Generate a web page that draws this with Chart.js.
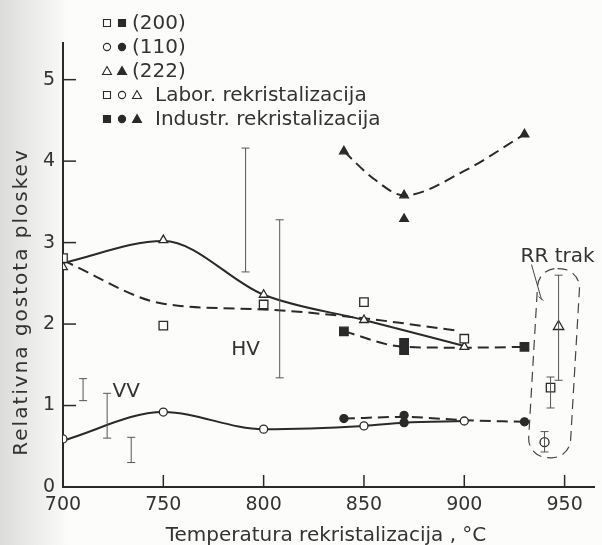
<!DOCTYPE html>
<html>
<head>
<meta charset="utf-8">
<script src="https://cdn.jsdelivr.net/npm/chart.js@4/dist/chart.umd.min.js"></script>
<style>
html,body{margin:0;padding:0;background:#fcfcfa;}
#wrap{width:602px;height:545px;}
</style>
</head>
<body>
<div id="wrap"><canvas id="c" width="602" height="545"></canvas></div>
<script>
// ---- data ----
const xTicks = [700, 750, 800, 850, 900, 950];
const yTicks = [0, 1, 2, 3, 4, 5];

// laboratory recrystallisation (open markers)
const labX   = [700, 750, 800, 850, 900];
const lab200 = [2.81, 1.98, 2.24, 2.27, 1.82];
const lab110 = [0.59, 0.92, 0.71, 0.75, 0.81];
const lab222 = [2.70, 3.03, 2.36, 2.05, 1.72];

// industrial recrystallisation (filled markers)
const ind200X = [840, 870, 870, 930];
const ind200  = [1.91, 1.68, 1.77, 1.72];
const ind110X = [840, 870, 870, 930];
const ind110  = [0.84, 0.88, 0.79, 0.80];
const ind222X = [840, 870, 870, 930];
const ind222  = [4.12, 3.58, 3.29, 4.33];

// RR strip (open markers)
const rr222X = [947], rr222 = [1.97];
const rr200X = [943], rr200 = [1.22];
const rr110X = [940], rr110 = [0.55];

// trend curves
const curveLab222X = [700, 750, 800, 850, 900];
const curveLab222  = [2.75, 3.02, 2.36, 2.05, 1.73];
const curveLab200X = [700, 750, 800, 850, 896];
const curveLab200  = [2.78, 2.25, 2.18, 2.07, 1.92];
const curveLab110X = [700, 750, 800, 850, 870, 900];
const curveLab110  = [0.57, 0.92, 0.71, 0.75, 0.79, 0.81];
const curveInd200X = [840, 870, 900, 930];
const curveInd200  = [1.91, 1.72, 1.71, 1.72];
const curveInd222X = [840, 855, 870, 900, 930];
const curveInd222  = [4.12, 3.78, 3.58, 3.88, 4.33];
const curveInd110X = [840, 870, 900, 930];
const curveInd110  = [0.84, 0.86, 0.82, 0.80];

// scatter ranges (error bars)
const errX  = [791, 808, 710, 722, 734, 947, 943, 940];
const errLo = [2.64, 1.34, 1.06, 0.60, 0.30, 1.31, 0.97, 0.43];
const errHi = [4.16, 3.28, 1.33, 1.15, 0.61, 2.60, 1.35, 0.68];

// ---- helpers ----
const INK = '#2a2a2a';
const FONT = '"DejaVu Sans", sans-serif';
const pts = (xs, ys) => xs.map((x, i) => ({x: x, y: ys[i]}));

function curve(xs, ys, dashed) {
  return {
    type: 'line', data: pts(xs, ys), borderColor: INK, borderWidth: 2,
    borderDash: dashed ? [11, 6] : [], pointRadius: 0, showLine: true,
    cubicInterpolationMode: 'monotone', fill: false, order: 2
  };
}
function marks(xs, ys, style, filled, r) {
  return {
    type: 'scatter', data: pts(xs, ys), pointStyle: style, pointRadius: r,
    pointBackgroundColor: filled ? INK : '#ffffff', pointBorderColor: INK,
    pointBorderWidth: 1.3, showLine: false, order: 1
  };
}

const overlay = {
  id: 'overlay',
  beforeDraw(chart) {
    const ctx = chart.ctx;
    ctx.save();
    const g = ctx.createLinearGradient(0, 0, 70, 0);
    g.addColorStop(0, '#dcdcda');
    g.addColorStop(1, '#fcfcfa');
    ctx.fillStyle = g;
    ctx.fillRect(0, 0, chart.width, chart.height);
    ctx.restore();
  },
  afterDatasetsDraw(chart) {
    const ctx = chart.ctx, xs = chart.scales.x, ys = chart.scales.y;
    const ca = chart.chartArea;
    ctx.save();
    // inward tick marks
    ctx.strokeStyle = INK; ctx.lineWidth = 1.5;
    xTicks.forEach(v => {
      if (v === xTicks[0]) return;
      const px = xs.getPixelForValue(v);
      ctx.beginPath(); ctx.moveTo(px, ca.bottom); ctx.lineTo(px, ca.bottom - 12); ctx.stroke();
    });
    yTicks.forEach(v => {
      if (v === 0) return;
      const py = ys.getPixelForValue(v);
      ctx.beginPath(); ctx.moveTo(ca.left, py); ctx.lineTo(ca.left + 13, py); ctx.stroke();
    });
    // error bars
    ctx.strokeStyle = '#555'; ctx.lineWidth = 1;
    errX.forEach((x, i) => {
      const px = xs.getPixelForValue(x);
      const p1 = ys.getPixelForValue(errLo[i]), p2 = ys.getPixelForValue(errHi[i]);
      ctx.beginPath();
      ctx.moveTo(px, p1); ctx.lineTo(px, p2);
      ctx.moveTo(px - 4, p1); ctx.lineTo(px + 4, p1);
      ctx.moveTo(px - 4, p2); ctx.lineTo(px + 4, p2);
      ctx.stroke();
    });
    // RR strip outline (dashed capsule)
    const tx = xs.getPixelForValue(947.5), ty = ys.getPixelForValue(2.68);
    const bx = xs.getPixelForValue(942), by = ys.getPixelForValue(0.36);
    const len = Math.hypot(bx - tx, by - ty);
    const ang = Math.atan2(bx - tx, by - ty);
    ctx.save();
    ctx.translate(tx, ty); ctx.rotate(-ang);
    ctx.strokeStyle = '#444'; ctx.lineWidth = 1.2; ctx.setLineDash([10, 6]);
    ctx.beginPath(); ctx.roundRect(-21, 0, 42, len, 19); ctx.stroke();
    ctx.restore();
    // leader line from label
    ctx.strokeStyle = '#444'; ctx.lineWidth = 1;
    const lx1 = xs.getPixelForValue(933.5), ly1 = ys.getPixelForValue(2.73);
    const lx2 = xs.getPixelForValue(938.5), ly2 = ys.getPixelForValue(2.3);
    ctx.beginPath(); ctx.moveTo(lx1, ly1); ctx.lineTo(lx2, ly2);
    ctx.moveTo(lx2 - 3, ly2 - 3); ctx.lineTo(lx2 + 2, ly2 + 1); ctx.stroke();

    // annotation texts
    ctx.fillStyle = '#333'; ctx.textAlign = 'center'; ctx.textBaseline = 'middle';
    ctx.font = '20px ' + FONT;
    ctx.fillText('HV', xs.getPixelForValue(791), ys.getPixelForValue(1.68));
    ctx.fillText('VV', xs.getPixelForValue(731.5), ys.getPixelForValue(1.17));
    ctx.fillText('RR trak', xs.getPixelForValue(946.5), ys.getPixelForValue(2.83));

    // axis titles
    ctx.font = '20px ' + FONT;
    ctx.fillText('Temperatura rekristalizacija , °C', 326, 536);
    ctx.save();
    ctx.translate(22, 302); ctx.rotate(-Math.PI / 2);
    ctx.letterSpacing = '2px';
    ctx.fillText('Relativna gostota ploskev', 0, 0);
    ctx.restore();

    // legend
    const drawMark = (style, filled, x, y) => {
      ctx.fillStyle = filled ? INK : '#ffffff';
      ctx.strokeStyle = INK; ctx.lineWidth = 1.1;
      ctx.beginPath();
      if (style === 'rect') ctx.rect(x - 3.5, y - 3.5, 7, 7);
      else if (style === 'circle') ctx.arc(x, y, 3.6, 0, Math.PI * 2);
      else { ctx.moveTo(x, y - 4.5); ctx.lineTo(x + 4.5, y + 3.5); ctx.lineTo(x - 4.5, y + 3.5); ctx.closePath(); }
      ctx.fill(); ctx.stroke();
    };
    const rows = [
      {y: 23, m: [['rect', 0], ['rect', 1]], t: '(200)', tx: 132},
      {y: 47, m: [['circle', 0], ['circle', 1]], t: '(110)', tx: 132},
      {y: 71, m: [['tri', 0], ['tri', 1]], t: '(222)', tx: 132},
      {y: 95, m: [['rect', 0], ['circle', 0], ['tri', 0]], t: 'Labor. rekristalizacija', tx: 155},
      {y: 119, m: [['rect', 1], ['circle', 1], ['tri', 1]], t: 'Industr. rekristalizacija', tx: 155}
    ];
    rows.forEach(r => {
      r.m.forEach((m, i) => drawMark(m[0], m[1], 107 + i * 15, r.y));
      ctx.fillStyle = '#333'; ctx.textAlign = 'left'; ctx.textBaseline = 'middle';
      ctx.font = '20px ' + FONT;
      ctx.fillText(r.t, r.tx, r.y + 1);
    });
    ctx.restore();
  }
};

new Chart(document.getElementById('c'), {
  type: 'scatter',
  data: {
    datasets: [
      curve(curveLab222X, curveLab222, false),
      curve(curveLab200X, curveLab200, true),
      curve(curveLab110X, curveLab110, false),
      curve(curveInd200X, curveInd200, true),
      curve(curveInd222X, curveInd222, true),
      curve(curveInd110X, curveInd110, true),
      marks(labX, lab200, 'rect', false, 6),
      marks(labX, lab110, 'circle', false, 4),
      marks(labX, lab222, 'triangle', false, 5),
      marks(ind200X, ind200, 'rect', true, 6),
      marks(ind110X, ind110, 'circle', true, 4),
      marks(ind222X, ind222, 'triangle', true, 5),
      marks(rr222X, rr222, 'triangle', false, 6),
      marks(rr200X, rr200, 'rect', false, 6),
      marks(rr110X, rr110, 'circle', false, 4.5)
    ]
  },
  options: {
    responsive: false, animation: false, devicePixelRatio: 1,
    layout: {padding: {top: 43, right: 4, left: 0, bottom: 0}},
    plugins: {legend: {display: false}, tooltip: {enabled: false}},
    scales: {
      x: {
        type: 'linear', min: 700, max: 965,
        afterBuildTicks: s => { s.ticks = xTicks.map(v => ({value: v})); },
        afterFit: s => { s.height = 58; },
        grid: {display: false, drawTicks: false},
        border: {display: true, color: INK, width: 2},
        ticks: {color: '#333', font: {family: FONT, size: 19}, padding: 7, maxRotation: 0}
      },
      y: {
        type: 'linear', min: 0, max: 5.45,
        afterBuildTicks: s => { s.ticks = yTicks.map(v => ({value: v})); },
        afterFit: s => { s.width = 63; },
        grid: {display: false, drawTicks: false},
        border: {display: true, color: INK, width: 2},
        ticks: {color: '#333', font: {family: FONT, size: 19}, padding: 8}
      }
    }
  },
  plugins: [overlay]
});
</script>
</body>
</html>
